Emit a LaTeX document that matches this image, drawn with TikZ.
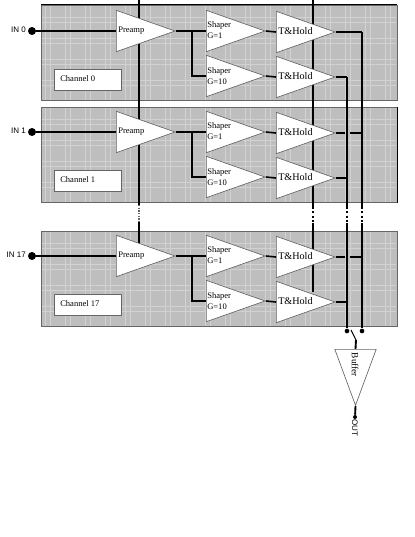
\documentclass[tikz,border=0pt]{standalone}
\usepackage{fontspec}
\setmainfont{Liberation Serif}
\setsansfont{Liberation Sans}
\usetikzlibrary{shapes.geometric}
\definecolor{panelgray}{HTML}{BEBEBE}
\definecolor{plaidgray}{HTML}{D2D2D2}
\definecolor{edgegray}{HTML}{666666}
\tikzset{
  panel/.style={draw=edgegray,fill=panelgray,line width=0.7pt,minimum width=267pt,minimum height=71.5pt,inner sep=0pt},
  plaid/.style={plaidgray,line width=0.7pt},
  amp/.style={isosceles triangle,isosceles triangle stretches,draw=edgegray,fill=white,line width=0.5pt,inner sep=0pt,minimum width=#1,minimum height=44pt,anchor=west},
  amp/.default=31pt,
  lbl/.style={font=\fontsize{6.4}{8}\selectfont,anchor=west,inner sep=0pt,align=left},
  thlbl/.style={lbl,font=\fontsize{7.6}{8}\selectfont},
  insig/.style={font=\sffamily\fontsize{6}{8}\selectfont,inner sep=0pt},
  tagbox/.style={draw=edgegray,fill=white,line width=0.6pt,minimum width=50pt,minimum height=15.5pt,inner sep=0pt},
  pad/.style={circle,fill=black,inner sep=0pt,minimum size=#1},
  wire/.style={line width=1.2pt},
  bus/.style={line width=1.2pt},
  gapbus/.style={line width=1.2pt,dash pattern=on 1.6pt off 1.6pt},
}
\begin{document}
\begin{tikzpicture}[x=0.75pt,y=-0.75pt]
\useasboundingbox (0,0) rectangle (415,537);
\fill[white] (0,0) rectangle (415,537);

% channel panels with their plaid
\foreach \n/\dy in {0/0,1/102,17/226}{
  \node[panel] (chan\n) at (219,53+\dy) {};
  \foreach \gx in {45,65,...,385}{
    \draw[plaid] (\gx,6+\dy) -- (\gx,100+\dy);
    \draw[plaid] (\gx+5,6+\dy) -- (\gx+5,100+\dy);
  }
  \foreach \gy in {17,38,59,80}{
    \draw[plaid] (42,\gy+\dy) -- (396,\gy+\dy);
    \draw[plaid] (42,\gy+5+\dy) -- (396,\gy+5+\dy);
  }
}
\draw[line width=0.8pt] (chan0.north west) -- (chan0.north east);
\draw[line width=0.8pt] (chan1.north east) -- (chan1.south east);

% vertical lines, they pass behind the triangles
\coordinate (ctlA) at (139,0);
\coordinate (ctlAa) at (139,205);
\coordinate (ctlAb) at (139,222);
\coordinate (ctlAc) at (139,250);
\coordinate (ctlB) at (313,0);
\coordinate (ctlBa) at (313,207);
\coordinate (ctlBb) at (313,223);
\coordinate (ctlBc) at (313,292);
\draw[line width=0.8pt] (ctlA) -- (ctlAa);
\draw[line width=0.8pt,edgegray,dash pattern=on 1pt off 1pt] (ctlAa) -- (ctlAb);
\draw[line width=0.8pt] (ctlAb) -- (ctlAc);
\draw[bus] (ctlB) -- (ctlBa);
\draw[gapbus] (ctlBa) -- (ctlBb);
\draw[bus] (ctlBb) -- (ctlBc);

% one channel
\foreach \n/\dy/\tagx in {0/0/Channel 0,1/101/Channel 1,17/225/Channel 17}{
  \node[amp] (pre\n) at (116,31+\dy) {};
  \node[amp] (shpa\n) at (206,31+\dy) {};
  \node[amp] (shpb\n) at (206,76+\dy) {};
  \node[amp] (tha\n) at (276,32+\dy) {};
  \node[amp] (thb\n) at (276,77+\dy) {};
  \node[lbl] (pretxt\n) at (118,31+\dy) {Preamp};
  \node[lbl] (shpatxt\n) at (207,30+\dy) {Shaper\\G=1};
  \node[lbl] (shpbtxt\n) at (207,76+\dy) {Shaper\\G=10};
  \node[thlbl] (thatxt\n) at (278,31+\dy) {T\&Hold};
  \node[thlbl] (thbtxt\n) at (278,76+\dy) {T\&Hold};
  \node[tagbox] (tag\n) at (88,80+\dy) {};
  \node[lbl] (tagtxt\n) at (60,79+\dy) {\tagx};
  \node[pad=6pt] (in\n) at (32,31+\dy) {};
  \node[insig,anchor=east] (intxt\n) at (26,30+\dy) {IN \n};
  \coordinate (jn\n) at (192,31+\dy);
  \draw[wire] (in\n) -- (pre\n.west);
  \draw[wire] (pre\n.apex) -- (shpa\n.west);
  \draw[wire] (jn\n) |- (shpb\n.west);
  \draw[wire] (shpa\n.apex) -- (tha\n.west);
  \draw[wire] (shpb\n.apex) -- (thb\n.west);
}

% output lines
\coordinate (busC) at (347,77);
\coordinate (busCa) at (347,207);
\coordinate (busCb) at (347,223);
\coordinate (busD) at (362,32);
\coordinate (busDa) at (362,207);
\coordinate (busDb) at (362,223);
\node[pad=3.5pt] (swC) at (347,331) {};
\node[pad=3.5pt] (swD) at (362,331) {};
\draw[bus] (thb0.apex) -| (busC);
\draw[bus] (tha0.apex) -| (busD);
\draw[bus] (busC) -- (busCa);
\draw[gapbus] (busCa) -- (busCb);
\draw[bus] (busCb) -- (swC);
\draw[bus] (busD) -- (busDa);
\draw[gapbus] (busDa) -- (busDb);
\draw[bus] (busDb) -- (swD);
\foreach \n/\dy in {1/101,17/225}{
  \coordinate (gapa\n) at (344.5,32+\dy);
  \coordinate (gapb\n) at (350,32+\dy);
  \coordinate (tapd\n) at (362,32+\dy);
  \coordinate (tapc\n) at (347,77+\dy);
  \draw[wire] (tha\n.apex) -- (gapa\n);
  \draw[wire] (gapb\n) -- (tapd\n);
  \draw[wire] (thb\n.apex) -- (tapc\n);
}

% output buffer
\node[isosceles triangle,isosceles triangle stretches,shape border rotate=-90,draw=edgegray,fill=white,line width=0.5pt,inner sep=0pt,minimum width=31pt,minimum height=42pt,anchor=north] (buf) at (355.5,349) {};
\node[lbl,anchor=center,rotate=-90,font=\fontsize{7}{8}\selectfont] (buftxt) at (355,365) {Buffer};
\coordinate (swa) at (351,330);
\coordinate (swb) at (356,340);
\node[pad=3pt] (outpad) at (355,417) {};
\node[insig,rotate=-90] (outtxt) at (355,428) {OUT};
\draw[line width=0.8pt] (swa) -- (swb);
\draw[line width=1.4pt] (swb) -- (buf.north);
\draw[line width=1.4pt] (buf.apex) -- (outpad);
\end{tikzpicture}
\end{document}
